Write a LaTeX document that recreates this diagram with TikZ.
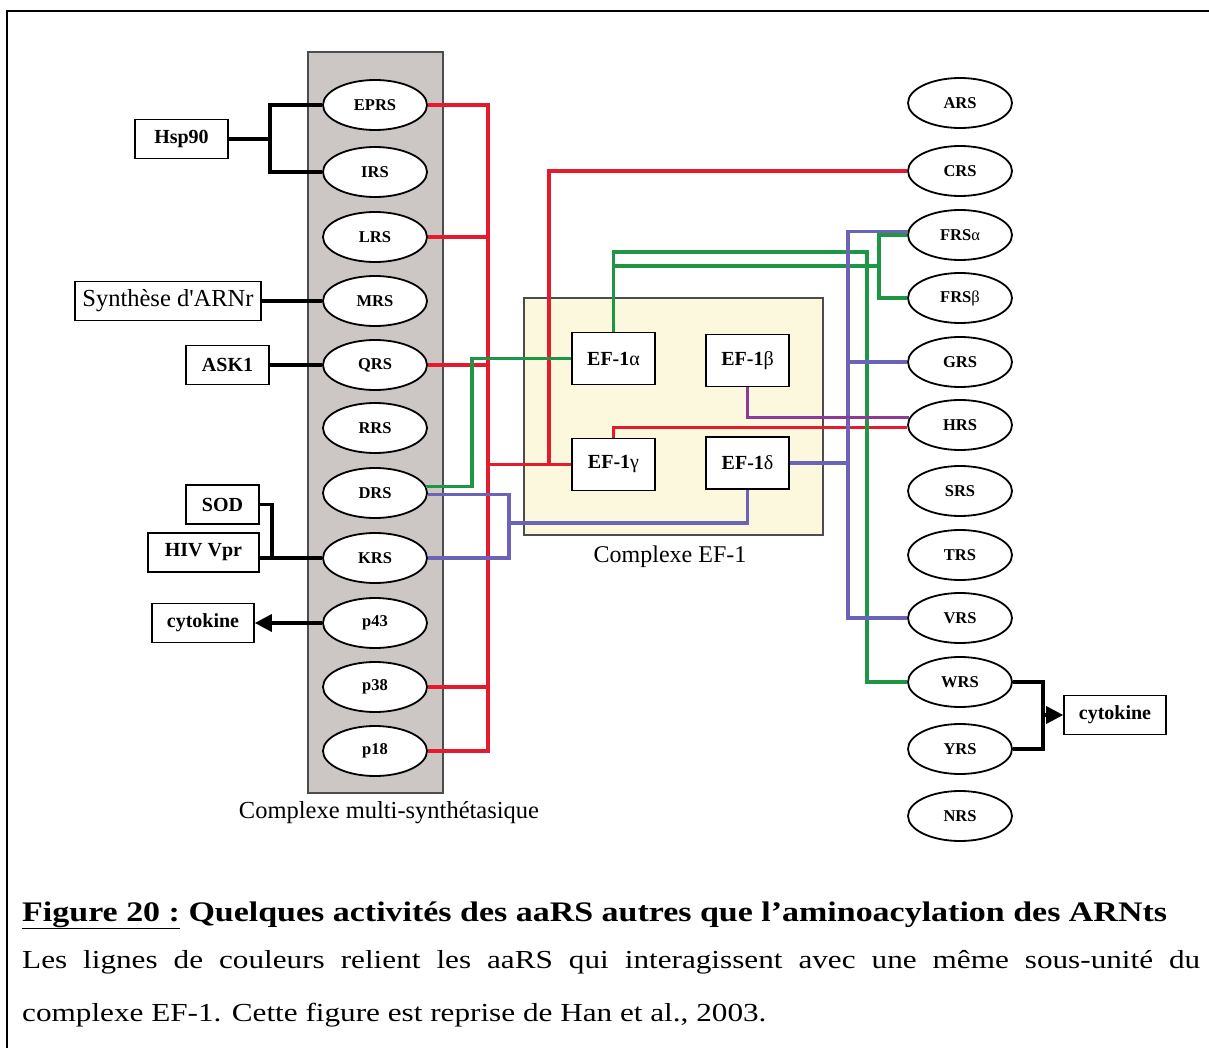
\documentclass[tikz,border=0pt]{standalone}
\usepackage{fontspec}
\setmainfont{Liberation Serif}
\newfontfamily\capfont[FakeStretch=1.2]{Liberation Serif}
\usetikzlibrary{arrows.meta,shapes.geometric}

\definecolor{linered}{HTML}{E31B2D}
\definecolor{linegreen}{HTML}{1E9646}
\definecolor{lineblue}{HTML}{6A63B8}
\definecolor{linepurple}{HTML}{8E3A96}
\definecolor{cmsgray}{HTML}{CCC7C5}
\definecolor{efyellow}{HTML}{FBF8DE}

\newcommand{\gk}[1]{{\mdseries #1}}

\begin{document}
\begin{tikzpicture}[x=1pt,y=-1pt,
  ell/.style={draw,ellipse,line width=1.8pt,fill=white,minimum width=104pt,
    minimum height=50pt,inner sep=0pt,font=\fontsize{16.5}{18}\selectfont\bfseries},
  sidebox/.style={draw,line width=1.6pt,fill=white,minimum height=39pt,inner sep=0pt,
    font=\fontsize{20}{22}\selectfont\bfseries},
  efbox/.style={draw,line width=1.6pt,fill=white,minimum width=83pt,minimum height=52pt,
    inner sep=0pt,font=\fontsize{20}{22}\selectfont\bfseries},
  redl/.style={draw=linered,line width=3.2pt},
  grnl/.style={draw=linegreen,line width=3.2pt},
  bluel/.style={draw=lineblue,line width=3.2pt},
  purl/.style={draw=linepurple,line width=3.2pt},
  blkl/.style={draw=black,line width=3.4pt},
  tip/.style={-{Triangle[length=17pt,width=17pt]}}]
\useasboundingbox (0,0) rectangle (1209,1048);
\draw[line width=2.4pt] (7,1048) -- (7,11) -- (1209,11);

% complexes
\draw[line width=1.5pt,draw=black!70,fill=cmsgray] (308,52) rectangle (443,793);
\draw[line width=1.5pt,draw=black!70,fill=efyellow] (524,298) rectangle (823,535);
\node (cmslabel) at (389,813) {\fontsize{24.5}{27}\selectfont Complexe multi-synthétasique};
\node (eflabel) at (670,557) {\fontsize{24}{27}\selectfont Complexe EF-1};

% left aaRS
\node[ell] (eprs) at (375,105) {EPRS};
\node[ell] (irs) at (375,172) {IRS};
\node[ell] (lrs) at (375,237) {LRS};
\node[ell] (mrs) at (375,301) {MRS};
\node[ell] (qrs) at (375,365) {QRS};
\node[ell] (rrs) at (375,428) {RRS};
\node[ell] (drs) at (375,493) {DRS};
\node[ell] (krs) at (375,558) {KRS};
\node[ell] (p43) at (375,623) {p43};
\node[ell] (p38) at (375,687) {p38};
\node[ell] (p18) at (375,751) {p18};

% right aaRS
\node[ell] (ars) at (960,103) {ARS};
\node[ell] (crs) at (960,171) {CRS};
\node[ell] (frsa) at (960,235) {FRS\gk{α}};
\node[ell] (frsb) at (960,298) {FRS\gk{β}};
\node[ell] (grs) at (960,362) {GRS};
\node[ell] (hrs) at (960,425) {HRS};
\node[ell] (srs) at (960,491) {SRS};
\node[ell] (trs) at (960,555) {TRS};
\node[ell] (vrs) at (960,618) {VRS};
\node[ell] (wrs) at (960,682) {WRS};
\node[ell] (yrs) at (960,749) {YRS};
\node[ell] (nrs) at (960,816) {NRS};

% partners
\node[sidebox,minimum width=93pt] (hsp) at (181.5,139) {Hsp90};
\node[sidebox,minimum width=186pt,font=\fontsize{24.5}{27}\selectfont] (synth) at (168,301) {Synthèse d\textquotesingle ARNr};
\node[sidebox,minimum width=83pt] (ask) at (227.5,365) {ASK1};
\node[sidebox,minimum width=73pt] (sod) at (222.5,504.5) {SOD};
\node[sidebox,minimum width=111pt] (hiv) at (203.5,552.5) {HIV Vpr};
\node[sidebox,minimum width=102pt] (cytl) at (203,623) {cytokine};
\node[sidebox,minimum width=102pt] (cytr) at (1115,715) {cytokine};

% EF-1 subunits
\node[efbox] (efa) at (613.5,358.5) {EF-1\gk{α}};
\node[efbox] (efb) at (747.5,360.5) {EF-1\gk{β}};
\node[efbox] (efg) at (613.5,464.5) {EF-1\gk{γ}};
\node[efbox] (efd) at (747.5,463) {EF-1\gk{δ}};

% bus positions
\coordinate (hb) at (270,0);
\coordinate (sb) at (272,0);
\coordinate (rbus) at (488,0);
\coordinate (rc) at (549,0);
\coordinate (gl) at (472,0);
\coordinate (bl) at (509,0);
\coordinate (bm) at (509,523);
\coordinate (br) at (848,0);
\coordinate (ga) at (613.5,252);
\coordinate (gb) at (613.5,266);
\coordinate (gw) at (867,0);
\coordinate (gf) at (879,0);
\coordinate (cb) at (1043,0);

% black links
\draw[blkl] (hsp.east) -- (hsp.east -| hb);
\draw[blkl] (eprs.west) -| (hb |- irs.west) -- (irs.west);
\draw[blkl] (synth.east) -- (mrs.west);
\draw[blkl] (ask.east) -- (qrs.west);
\draw[blkl] (sod.east) -| (sb |- krs.west);
\draw[blkl] (krs.west) -- (krs.west -| hiv.east);
\draw[blkl,tip] (p43.west) -- (cytl.east);
\draw[blkl] (wrs.east) -| (cb |- yrs.east) -- (yrs.east);
\draw[blkl,tip] (cb |- cytr.west) -- (cytr.west);

% red: EF-1gamma
\draw[redl] (eprs.east) -- (eprs.east -| rbus) -- (p18.east -| rbus) -- (p18.east);
\draw[redl] (lrs.east) -- (lrs.east -| rbus);
\draw[redl] (qrs.east) -- (qrs.east -| rbus);
\draw[redl] (p38.east) -- (p38.east -| rbus);
\draw[redl] (efg.west) -- (efg.west -| rbus);
\draw[redl] (crs.west) -| (rc |- efg.west);
\draw[redl] (efg.north) |- (hrs.183);

% green: EF-1alpha
\draw[grnl] (drs.7) -| (gl |- efa.west) -- (efa.west);
\draw[grnl] (efa.north) -- (ga) -| (gw |- wrs.west) -- (wrs.west);
\draw[grnl] (gb) -- (gb -| gf);
\draw[grnl] (frsa.west) -| (gf |- frsb.west) -- (frsb.west);

% blue: EF-1delta
\draw[bluel] (drs.358) -| (bl |- krs.east) -- (krs.east);
\draw[bluel] (bm) -| (efd.south);
\draw[bluel] (frsa.176) -| (br |- vrs.west) -- (vrs.west);
\draw[bluel] (grs.west) -- (grs.west -| br);
\draw[bluel] (efd.east) -- (efd.east -| br);

% purple: EF-1beta
\draw[purl] (efb.south) |- (hrs.172);

% caption
\node[anchor=base west,inner sep=0pt] (title) at (22,921)
  {\fontsize{28.3}{32}\capfont\bfseries\underline{Figure 20 :} Quelques activités des aaRS autres que l’aminoacylation des ARNts};
\node[anchor=base west,inner sep=0pt] (capa) at (22,968)
  {\fontsize{26}{30}\capfont\makebox[1178pt][s]{Les lignes de couleurs relient les aaRS qui interagissent avec une même sous-unité du}};
\node[anchor=base west,inner sep=0pt] (capb) at (22,1021)
  {\fontsize{26}{30}\capfont complexe EF-1. Cette figure est reprise de Han et al., 2003.};
\end{tikzpicture}
\end{document}
